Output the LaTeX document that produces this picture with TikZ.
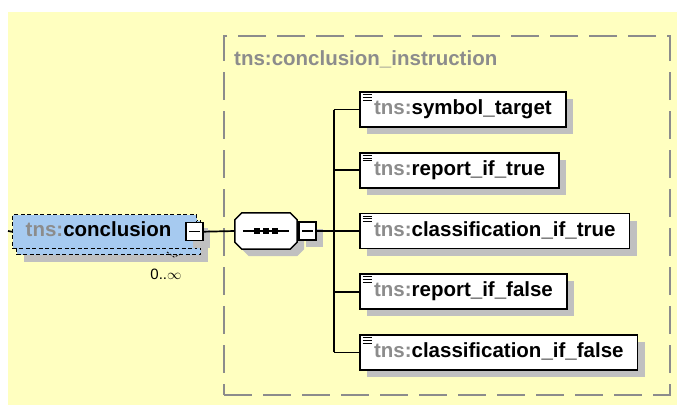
\documentclass[tikz,border=0pt]{standalone}
\usepackage{fontspec}
\setmainfont{Liberation Sans}
\usepackage{tikz}
\usetikzlibrary{matrix,shadows,calc}

\definecolor{paper}{HTML}{FFFFC0}
\definecolor{elemblue}{HTML}{A6CAF0}
\definecolor{shade}{HTML}{C0C0C0}
\definecolor{tnsgray}{HTML}{8C8C8C}
\definecolor{framegray}{HTML}{8C8C8C}

\newcommand{\tns}{\textcolor{tnsgray}{tns:}}

\tikzset{
	elemfont/.style={font=\fontsize{20.5pt}{24pt}\selectfont\bfseries},
	shade it/.style={general shadow={fill=shade,shadow xshift=7pt,shadow yshift=-7pt}},
	wire/.style={line width=1.7pt},
	child/.style={draw, line width=1.7pt, fill=white, elemfont, inner xsep=14pt, inner ysep=0pt,
		minimum height=35pt, text height=15pt, text depth=5pt, anchor=west, shade it},
	conclbox/.style={draw, line width=1.4pt, dash pattern=on 4pt off 2.5pt, fill=elemblue, elemfont,
		text width=158pt, inner xsep=13pt, inner ysep=0pt, align=left,
		minimum height=34pt, text height=15pt, text depth=5pt, anchor=north west},
	expander/.style={draw, line width=1.5pt, fill=white, minimum width=17pt, minimum height=18pt,
		inner sep=0pt, shade it},
	group/.style={draw=framegray, line width=2pt, dash pattern=on 28pt off 11pt, inner sep=0pt}
}

\begin{document}
\begin{tikzpicture}[x=1pt,y=-1pt]
		\useasboundingbox (0,0) rectangle (677,405);
		\fill[paper] (8,12) rectangle (677,405);

		% group of the complex type
		\node[group, anchor=north west, minimum width=446pt, minimum height=359pt] (grp) at (223,35) {};
		\node[elemfont, text=tnsgray, anchor=base west, inner sep=0pt] (grp-title) at (234,65) {tns:conclusion\_instruction};

		% element with 0..oo occurrences
		\node[conclbox, shade it] (concl-back) at (16,220) {};
		\node[conclbox] (concl) at (12,214) {\tns conclusion};
		\node[expander] (concl-exp) at ([xshift=-3pt]concl.east) {};
		\node[font=\fontsize{15pt}{18pt}\selectfont, anchor=base] (occurs) at (166,279) {0..$\infty$};
		\draw[line width=0.9pt, dash pattern=on 2pt off 1.5pt] (167,252) -- (174,257) -- (181,254);

		% sequence
		\node[minimum width=62pt, minimum height=36pt, inner sep=0pt] (seq) at (266,231) {};
		\filldraw[line width=1.5pt, fill=white, shade it]
		([xshift=7pt]seq.north west) -- ([xshift=-7pt]seq.north east) -- ([yshift=-7pt]seq.north east)
		-- ([yshift=7pt]seq.south east) -- ([xshift=-7pt]seq.south east) -- ([xshift=7pt]seq.south west)
		-- ([yshift=7pt]seq.south west) -- ([yshift=-7pt]seq.north west) -- cycle;
		\node[expander, anchor=west] (seq-exp) at ([xshift=1pt]seq.east) {};
		\draw[wire] ([xshift=8pt]seq.west) -- ([xshift=-8pt]seq.east);
		\foreach \d in {-9,0,9}
			\fill ($(seq.center)+(\d,0)$) +(-2.7,-2.7) rectangle +(2.7,2.7);
		\foreach \e in {concl-exp,seq-exp}
			\draw[line width=1.5pt] ([xshift=4pt]\e.west) -- ([xshift=-4pt]\e.east);

		% children
		\matrix (m) [matrix of nodes, row sep=24pt, nodes={child}, inner sep=0pt, anchor=west] at (359,231)
		{
			\tns symbol\_target \\
			\tns report\_if\_true \\
			\tns classification\_if\_true \\
			\tns report\_if\_false \\
			\tns classification\_if\_false \\
		};
		\foreach \i in {1,...,5}
			\foreach \k in {3.5,6.2,8.9}
				\draw[line width=0.9pt] ([shift={(3.5,\k)}]m-\i-1.north west) -- ++(9,0);

		% connectors
		\coordinate (entry) at (8,231);
		\draw[wire] (entry) -- (concl.west);
		\draw[wire] (concl-exp.east) -- (seq.west);
		\draw[wire] (seq-exp.east) -- ++(17,0) coordinate (trunk);
		\draw[wire] (trunk |- m-1-1.west) -- (trunk |- m-5-1.west);
		\foreach \i in {1,...,5}
			\draw[wire] (trunk |- m-\i-1.west) -- (m-\i-1.west);
\end{tikzpicture}
\end{document}
